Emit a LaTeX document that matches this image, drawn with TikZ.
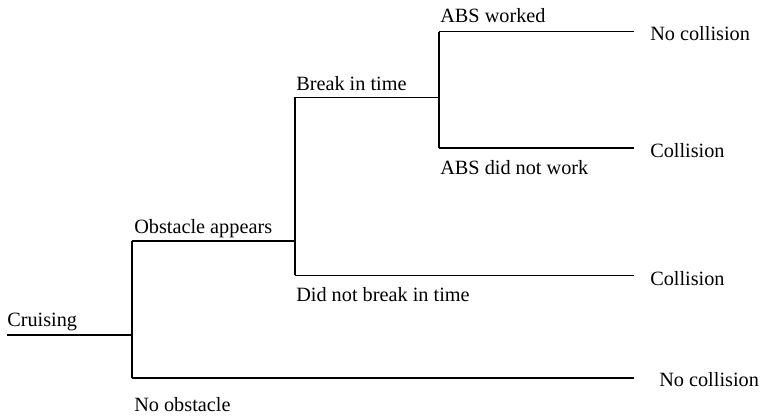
\documentclass[tikz,border=0pt]{standalone}
\usepackage{fontspec}
\setmainfont{Liberation Serif}
\begin{document}
\begin{tikzpicture}[x=0.75pt,y=-0.75pt,
  branch/.style={line width=0.9pt},
  lbl/.style={anchor=base west, inner sep=0pt, font=\fontsize{15.2}{18}\selectfont}]
\useasboundingbox (0,0) rectangle (760,416);
% branch points
\coordinate (start) at (7,335);
\coordinate (n1) at (132,335);
\coordinate (n1t) at (132,241);
\coordinate (n1b) at (132,378);
\coordinate (n2) at (295,241);
\coordinate (n2t) at (295,97.5);
\coordinate (n2b) at (295,275.5);
\coordinate (n3) at (439,97.5);
\coordinate (n3t) at (439,31.6);
\coordinate (n3b) at (439,148);
\coordinate (e1) at (634,31.6);
\coordinate (e2) at (634,148);
\coordinate (e3) at (634,275.5);
\coordinate (e4) at (634,378);
% connectors
\draw[branch] (start) -- (n1);
\draw[branch] (n1t) -- (n1b);
\draw[branch] (n1t) -- (n2);
\draw[branch] (n2t) -- (n2b);
\draw[branch] (n2t) -- (n3);
\draw[branch] (n3t) -- (n3b);
\draw[branch] (n3t) -- (e1);
\draw[branch] (n3b) -- (e2);
\draw[branch] (n2b) -- (e3);
\draw[branch] (n1b) -- (e4);
% labels
\node[lbl] (cruise) at (7,326.5) {Cruising};
\node[lbl] (obst) at (134,233.5) {Obstacle appears};
\node[lbl] (noobst) at (134,411.5) {No obstacle};
\node[lbl] (brk) at (296,90.5) {Break in time};
\node[lbl] (nobrk) at (296,301.5) {Did not break in time};
\node[lbl] (absw) at (440,23) {ABS worked};
\node[lbl] (absn) at (440,174.5) {ABS did not work};
\node[lbl] (r1) at (650,40.5) {No collision};
\node[lbl] (r2) at (650,157.5) {Collision};
\node[lbl] (r3) at (650,285.5) {Collision};
\node[lbl] (r4) at (659,386.5) {No collision};
\end{tikzpicture}
\end{document}
